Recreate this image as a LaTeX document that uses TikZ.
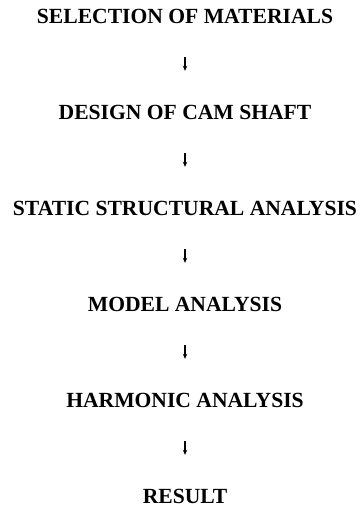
\documentclass[tikz,border=0pt]{standalone}
\usepackage{fontspec}
\setmainfont{Liberation Serif}
\usetikzlibrary{arrows.meta}
\begin{document}
\begin{tikzpicture}[x=1pt,y=1pt,
  stepbox/.style={inner sep=0pt, text height=15pt, text depth=0pt,
    font=\fontsize{21.6}{26}\selectfont\bfseries, anchor=center},
  arr/.style={line width=1.3pt, -{Stealth[length=5pt,width=4.5pt]},
    shorten <=33.5pt, shorten >=33.5pt}]
\useasboundingbox (0,0) rectangle (359,-508);
\node[stepbox] (a) at (185,-16) {SELECTION OF MATERIALS};
\node[stepbox] (b) at (185,-112) {DESIGN OF CAM SHAFT};
\node[stepbox] (c) at (185,-208) {STATIC STRUCTURAL ANALYSIS};
\node[stepbox] (d) at (185,-304) {MODEL ANALYSIS};
\node[stepbox] (e) at (185,-400) {HARMONIC ANALYSIS};
\node[stepbox] (f) at (185,-496) {RESULT};
\draw[arr] (a.south) -- (b.north);
\draw[arr] (b.south) -- (c.north);
\draw[arr] (c.south) -- (d.north);
\draw[arr] (d.south) -- (e.north);
\draw[arr] (e.south) -- (f.north);
\end{tikzpicture}
\end{document}
